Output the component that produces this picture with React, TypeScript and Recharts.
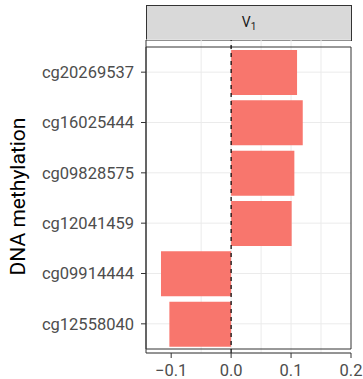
import React from "react";
import {
  BarChart,
  Bar,
  XAxis,
  YAxis,
  CartesianGrid,
  ReferenceLine,
  ReferenceArea,
} from "recharts";

// CpG probes, top to bottom
const probes = [
  "cg20269537",
  "cg16025444",
  "cg09828575",
  "cg12041459",
  "cg09914444",
  "cg12558040",
];

// effect on V1
const effects = [0.11, 0.1195, 0.1055, 0.101, -0.117, -0.103];

const xTicks = [-0.1, 0, 0.1, 0.2];
const gridX = [-0.1, -0.05, 0, 0.05, 0.1, 0.15];

const data = probes.map((p, i) => ({ probe: p, value: effects[i] }));

const fmt = (v: number) => {
  const s = Math.abs(v).toFixed(1);
  return v < 0 ? `\u2212${s}` : s;
};

const App: React.FC = () => {
  return (
    <div
      style={{
        position: "absolute",
        left: 0,
        top: 0,
        width: 363,
        height: 379,
        background: "#fff",
        fontFamily: "Roboto, sans-serif",
      }}
    >
      {/* facet strip */}
      <div
        style={{
          position: "absolute",
          left: 146,
          top: 5,
          width: 206,
          height: 36,
          boxSizing: "border-box",
          background: "#D9D9D9",
          border: "1px solid #333333",
          display: "flex",
          alignItems: "center",
          justifyContent: "center",
          color: "#1A1A1A",
          fontSize: 14,
        }}
      >
        <span>
          V<sub style={{ fontSize: 10, verticalAlign: "-3px" }}>1</sub>
        </span>
      </div>

      <BarChart
        width={363}
        height={379}
        data={data}
        layout="vertical"
        margin={{ top: 40, right: 12, bottom: 0, left: 0 }}
        barSize={45}
      >
        <CartesianGrid
          stroke="#EBEBEB"
          strokeWidth={1}
          verticalValues={gridX}
        />
        <XAxis
          type="number"
          domain={[-0.142, 0.2]}
          ticks={xTicks}
          allowDataOverflow
          tickFormatter={fmt}
          height={26}
          tickSize={5}
          tickMargin={6}
          tick={{ fill: "#4D4D4D", fontSize: 16.5 }}
          tickLine={{ stroke: "#333333" }}
          axisLine={{ stroke: "#333333" }}
        />
        <YAxis
          type="category"
          dataKey="probe"
          width={146}
          tickSize={5}
          tickMargin={7}
          padding={{ top: 7, bottom: 4 }}
          tick={{ fill: "#4D4D4D", fontSize: 16.5 }}
          tickLine={{ stroke: "#333333" }}
          axisLine={{ stroke: "#333333" }}
          label={{
            value: "DNA methylation",
            angle: -90,
            position: "insideLeft",
            offset: 18,
            fill: "#000",
            fontSize: 21,
            style: { textAnchor: "middle" },
          }}
        />
        <Bar dataKey="value" fill="#F8766D" isAnimationActive={false} />
        <ReferenceLine
          x={0}
          stroke="#000"
          strokeWidth={1.2}
          strokeDasharray="4 4"
        />
        <ReferenceArea
          x1={-0.142}
          x2={0.2}
          fill="none"
          stroke="#333333"
          strokeWidth={1}
          ifOverflow="visible"
        />
      </BarChart>
    </div>
  );
};

export default App;
